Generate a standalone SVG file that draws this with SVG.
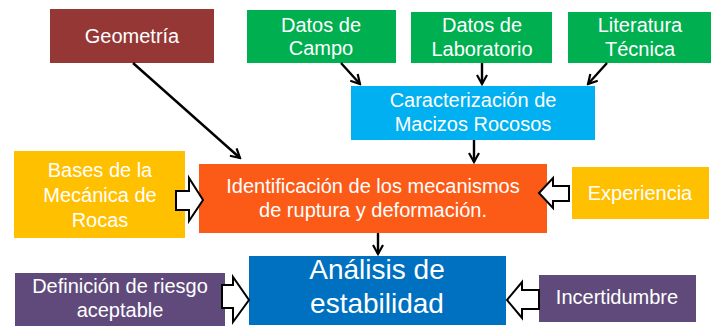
<svg xmlns="http://www.w3.org/2000/svg" width="717" height="326" viewBox="0 0 717 326">
<defs>
<marker id="ah" viewBox="0 0 12 12" refX="10" refY="6" markerWidth="12" markerHeight="12" markerUnits="userSpaceOnUse" orient="auto">
<path d="M1,1 L10,6 L1,11" fill="none" stroke="#000" stroke-width="2.2"/>
</marker>
</defs>
<style>
.t{font-family:"Liberation Sans",Arial,sans-serif;fill:#fff;text-anchor:middle;font-size:20px}
.big{font-size:28px}
.ln{stroke:#000;stroke-width:2.4;fill:none}
.blk{fill:#fff;stroke:#000;stroke-width:2;stroke-linejoin:miter}
</style>
<rect width="717" height="326" fill="#fff"/>
<g id="geometria"><rect x="50" y="9" width="164" height="54" fill="#953735"/><text class="t" x="132" y="43">Geometría</text></g>
<g id="datos-campo"><rect x="247" y="10" width="149" height="53" fill="#00B050"/><text class="t" x="321" y="32">Datos de</text><text class="t" x="321" y="55">Campo</text></g>
<g id="datos-laboratorio"><rect x="411" y="12" width="141" height="51" fill="#00B050"/><text class="t" x="482" y="32">Datos de</text><text class="t" x="482" y="56">Laboratorio</text></g>
<g id="literatura"><rect x="568" y="12" width="143" height="51" fill="#00B050"/><text class="t" x="640" y="32">Literatura</text><text class="t" x="640" y="56">Técnica</text></g>
<g id="caracterizacion"><rect x="351" y="86" width="244" height="54" fill="#00B0F0"/><text class="t" x="473" y="107">Caracterización de</text><text class="t" x="473" y="131">Macizos Rocosos</text></g>
<g id="bases"><rect x="14" y="151" width="171" height="87" fill="#FFC000"/><text class="t" x="100" y="177">Bases de la</text><text class="t" x="100" y="202">Mecánica de</text><text class="t" x="100" y="227">Rocas</text></g>
<g id="identificacion"><rect x="199" y="164" width="348" height="69" fill="#FC5A17"/><text class="t" x="373" y="193">Identificación de los mecanismos</text><text class="t" x="373" y="217">de ruptura y deformación.</text></g>
<g id="experiencia"><rect x="572" y="167" width="137" height="52" fill="#FFC000"/><text class="t" x="640" y="200">Experiencia</text></g>
<g id="analisis"><rect x="249" y="256" width="257" height="69" fill="#0070C0"/><text class="t big" x="377" y="279">Análisis de</text><text class="t big" x="377" y="313">estabilidad</text></g>
<g id="definicion"><rect x="15" y="273" width="210" height="53" fill="#604A7B"/><text class="t" x="120" y="293">Definición de riesgo</text><text class="t" x="120" y="317">aceptable</text></g>
<g id="incertidumbre"><rect x="539" y="275" width="157" height="47" fill="#604A7B"/><text class="t" x="617" y="304">Incertidumbre</text></g>
<g id="connectors">
<line class="ln" x1="133" y1="63" x2="240" y2="158" marker-end="url(#ah)"/>
<line class="ln" x1="341" y1="63" x2="360" y2="84" marker-end="url(#ah)"/>
<line class="ln" x1="482" y1="63" x2="482" y2="84" marker-end="url(#ah)"/>
<line class="ln" x1="607" y1="63" x2="588" y2="84" marker-end="url(#ah)"/>
<line class="ln" x1="474" y1="140" x2="474" y2="162" marker-end="url(#ah)"/>
<line class="ln" x1="378" y1="233" x2="378" y2="254" marker-end="url(#ah)"/>
<path class="blk" d="M176,191 L189,191 L189,178 L203,200 L189,221 L189,210 L176,210 Z"/>
<path class="blk" d="M569,186 L553,186 L553,178 L539,193 L553,208 L553,201 L569,201 Z"/>
<path class="blk" d="M222,285 L233,285 L233,277 L249,300 L233,322 L233,308 L222,308 Z"/>
<path class="blk" d="M539,290 L522,290 L522,282 L507,300 L522,318 L522,309 L539,309 Z"/>
</g>
</svg>
